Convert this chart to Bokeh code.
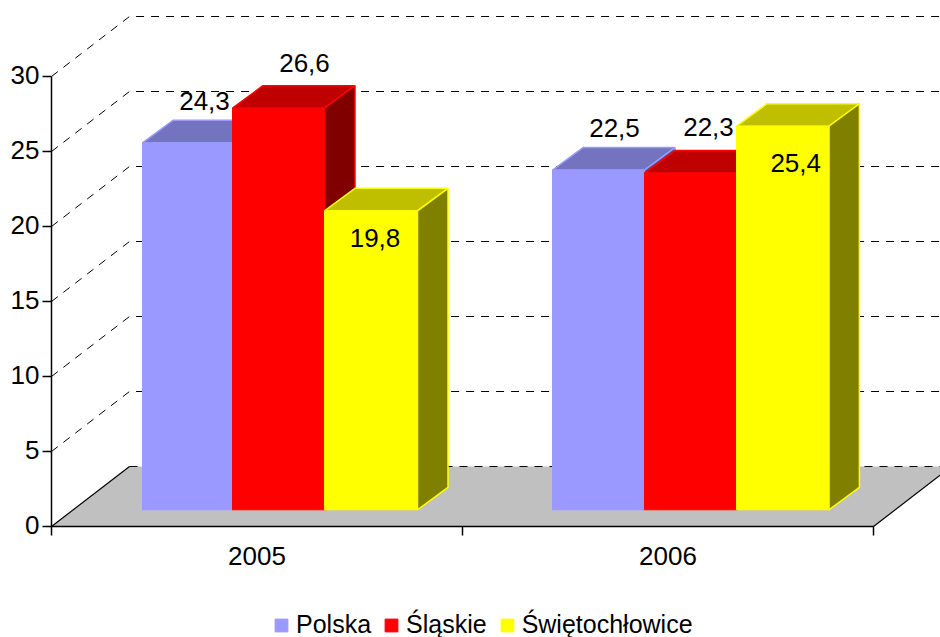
from bokeh.plotting import figure
from bokeh.models import Range1d, FixedTicker, LinearAxis, Legend, LegendItem, ColumnDataSource
from bokeh.embed import file_html
from bokeh.resources import INLINE
from bokeh.core.properties import value

# --- data ---
years = ["2005", "2006"]
series_names = ["Polska", "Śląskie", "Świętochłowice"]
polska = [24.3, 22.5]
slaskie = [26.6, 22.3]
swietochlowice = [19.8, 25.4]
labels_polska = ["24,3", "22,5"]
labels_slaskie = ["26,6", "22,3"]
labels_swiet = ["19,8", "25,4"]
y_ticks = [0, 5, 10, 15, 20, 25, 30]

# --- style ---
FONT = "Liberation Sans"
FS = "26px"
front_colors = ["#9999FF", "#FF0000", "#FFFF00"]
top_colors = ["#7373BF", "#BF0000", "#BFBF00"]
side_colors = ["#4D4D80", "#800000", "#808000"]
GRID_DASH = "8 7"

# --- projection constants (data units; 1 x unit = 411px, 1 y unit = 15px) ---
WALL_DX, WALL_DY = 78 / 411, 4.0
BAR_DX, BAR_DY = 30.5 / 411, 1.5
BAR_BASE, BAR_SCALE = 16.7 / 15, 15.1 / 15
EDGES = [[0.2214, 0.4404, 0.6642, 0.8905], [1.2190, 1.4428, 1.6667, 1.8915]]
# label shifts in screen pixels for each series, each year (x right, y down)
LABEL_OFF = {
    0: [(17, -42), (16, -42)],
    1: [(26, -45), (18, -46)],
    2: [(4, 27), (13, 37)],
}

p = figure(width=940, height=637, output_backend="svg", toolbar_location=None,
           x_range=Range1d(-51 / 411, 889 / 411), y_range=Range1d(-111 / 15, 526 / 15),
           min_border_left=0, min_border_right=0, min_border_top=0, min_border_bottom=0,
           x_axis_type=None, y_axis_type=None)
p.outline_line_color = None
p.grid.visible = False
p.background_fill_color = "white"

# floor
p.patch([0, WALL_DX, 2 + WALL_DX, 2], [0, WALL_DY, WALL_DY, 0],
        fill_color="#C0C0C0", line_color=None)
p.segment([0, 2], [0, 0], [WALL_DX, 2 + WALL_DX], [WALL_DY, WALL_DY], line_color="black", line_width=1.2)

# wall grid
ticks_up = [t for t in y_ticks]
p.multi_line([[0, WALL_DX, 2 + WALL_DX] for t in ticks_up if t > 0],
             [[t, t + WALL_DY, t + WALL_DY] for t in ticks_up if t > 0],
             line_color="black", line_width=1, line_dash=GRID_DASH)
p.line([WALL_DX, 2 + WALL_DX], [WALL_DY, WALL_DY], line_color="black", line_width=1, line_dash=GRID_DASH)

# bars
all_vals = [polska, slaskie, swietochlowice]
all_labs = [labels_polska, labels_slaskie, labels_swiet]
items = []
for s, vals in enumerate(all_vals):
    lefts = [EDGES[g][s] for g in range(2)]
    rights = [EDGES[g][s + 1] for g in range(2)]
    tops = [BAR_BASE + v * BAR_SCALE for v in vals]
    p.patches([[l, l + BAR_DX, r + BAR_DX, r] for l, r in zip(lefts, rights)],
              [[t, t + BAR_DY, t + BAR_DY, t] for t in tops],
              fill_color=top_colors[s], line_color=front_colors[s], line_width=1.5)
    p.patches([[r, r + BAR_DX, r + BAR_DX, r] for r in rights],
              [[BAR_BASE, BAR_BASE + BAR_DY, t + BAR_DY, t] for t in tops],
              fill_color=side_colors[s], line_color=front_colors[s], line_width=1.5)
    front = p.quad(left=lefts, right=rights, bottom=[BAR_BASE] * 2, top=tops,
                   fill_color=front_colors[s], line_color=front_colors[s], line_width=1)
    items.append(LegendItem(label=value(series_names[s]), renderers=[front]))

# data labels (after all bars)
for s, vals in enumerate(all_vals):
    src = ColumnDataSource(dict(
        x=[(EDGES[g][s] + EDGES[g][s + 1]) / 2 for g in range(2)],
        y=[BAR_BASE + v * BAR_SCALE for v in vals],
        t=all_labs[s],
        xo=[o[0] for o in LABEL_OFF[s]],
        yo=[o[1] for o in LABEL_OFF[s]],
    ))
    p.text(x="x", y="y", text="t", x_offset="xo", y_offset="yo", source=src,
           text_align="center", text_baseline="middle", text_color="black",
           text_font=value(FONT), text_font_size=FS)

# axes
xax = LinearAxis(ticker=FixedTicker(ticks=[0.5, 1.5], minor_ticks=[0, 1, 2]),
                 major_label_overrides={0.5: years[0], 1.5: years[1]},
                 bounds=(0, 2), fixed_location=0, major_tick_out=0, major_tick_in=0,
                 minor_tick_out=9, minor_tick_in=0, minor_tick_line_color="black",
                 minor_tick_line_width=1.5, axis_line_color="black", axis_line_width=1.5,
                 major_label_standoff=11, major_label_text_font=FONT,
                 major_label_text_font_size=FS, major_label_text_color="black")
p.add_layout(xax, "below")
yax = LinearAxis(ticker=FixedTicker(ticks=y_ticks), bounds=(0, 30), fixed_location=0,
                 major_label_overrides={t: "" for t in y_ticks},
                 major_tick_out=9, major_tick_in=0, major_tick_line_color="black",
                 major_tick_line_width=1.5, minor_tick_out=0, minor_tick_in=0,
                 axis_line_color="black", axis_line_width=1.5)
p.add_layout(yax, "left")
# value labels sit a little above their ticks in the reference
p.text(x=[0] * len(y_ticks), y=y_ticks, text=[str(t) for t in y_ticks],
       x_offset=-12, y_offset=-2, text_align="right", text_baseline="middle", text_color="black",
       text_font=value(FONT), text_font_size=FS)

legend = Legend(items=items, orientation="horizontal", location=(273, -2),
                glyph_width=16, glyph_height=16, label_standoff=7, spacing=12,
                padding=0, margin=0, border_line_color=None, background_fill_alpha=0,
                label_text_font=FONT, label_text_font_size="25px", label_text_color="black")
p.add_layout(legend, "center")

open("out.html", "w").write(file_html(p, INLINE))
